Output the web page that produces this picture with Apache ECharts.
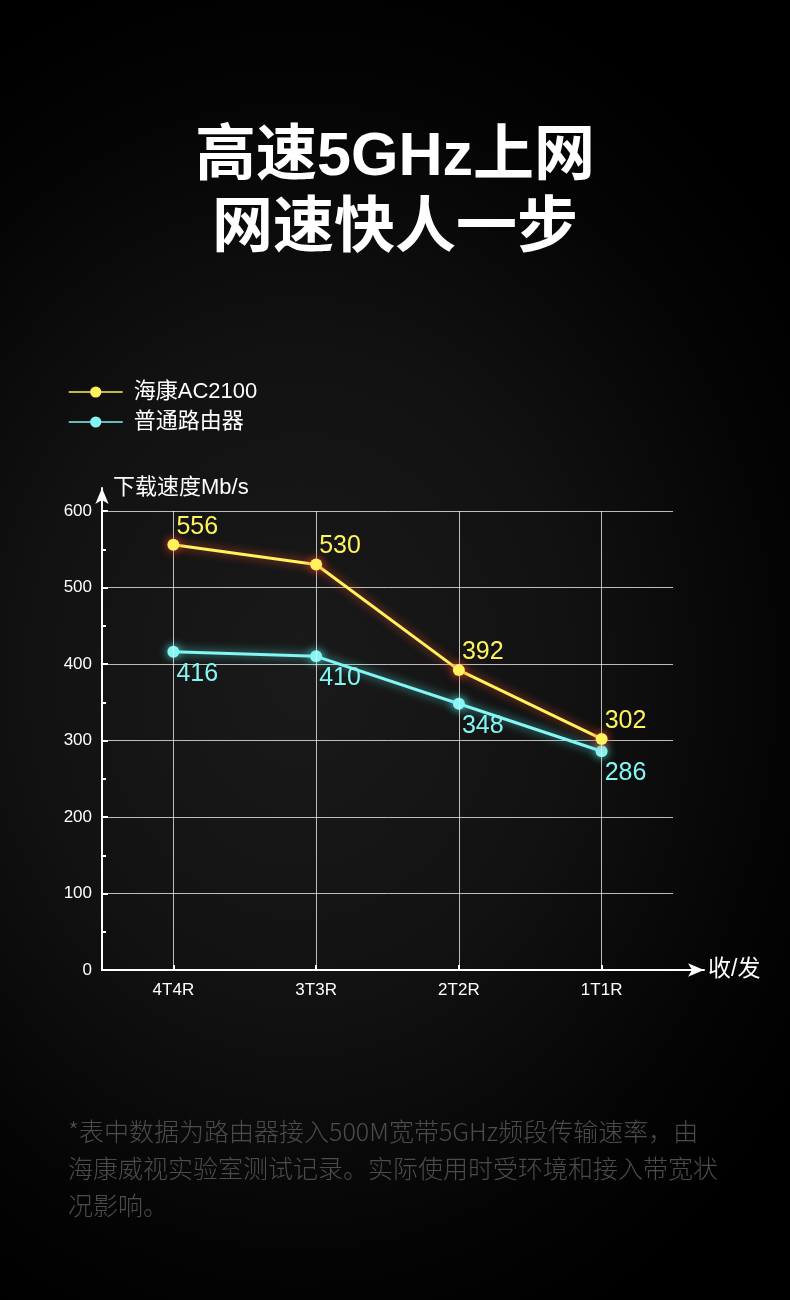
<!DOCTYPE html>
<html>
<head>
<meta charset="utf-8">
<script src="https://cdn.jsdelivr.net/npm/echarts@6/dist/echarts.min.js"></script>
<style>
  html, body { margin: 0; padding: 0; }
  body {
    width: 790px; height: 1300px;
    background: radial-gradient(ellipse 75% 55% at 38% 52%, #1a1a1a 0%, #121212 45%, #050505 80%, #000 100%);
  }
  #chart { width: 790px; height: 1300px; }
</style>
</head>
<body>
<div id="chart"></div>
<script>
// chart data
const categories = ['4T4R', '3T3R', '2T2R', '1T1R'];
const hikSpeed = [556, 530, 392, 302];
const normalSpeed = [416, 410, 348, 286];
const seriesNames = ['海康AC2100', '普通路由器'];

const yellow = '#fff25c';
const cyan = '#84f6f4';
const font = '"Liberation Sans", "Noto Sans CJK SC", sans-serif';

const footnote = '*表中数据为路由器接入500M宽带5GHz频段传输速率，由\n' +
    '海康威视实验室测试记录。实际使用时受环境和接入带宽状\n' +
    '况影响。';

let chart = echarts.init(document.getElementById('chart'));

let option = {
    backgroundColor: 'transparent',
    textStyle: { fontFamily: font },
    title: {
        text: '高速5GHz上网\n网速快人一步',
        left: 'center',
        top: 117,
        textStyle: {
            color: '#ffffff',
            fontSize: 61,
            fontWeight: 'bold',
            lineHeight: 72,
            fontFamily: font
        }
    },
    legend: {
        orient: 'vertical',
        left: 68,
        top: 381,
        padding: 0,
        itemWidth: 54,
        itemHeight: 14,
        itemGap: 8,
        data: seriesNames,
        lineStyle: { width: 1.5 },
        textStyle: { color: '#ffffff', fontSize: 22, lineHeight: 22, padding: [0, 0, 0, 6] }
    },
    grid: [
        // data grid
        { left: 102, right: 117, top: 511, bottom: 330 },
        // only the arrow axes
        { left: 102, right: 86, top: 488, bottom: 330 }
    ],
    xAxis: [
        {
            type: 'category',
            gridIndex: 0,
            data: categories,
            boundaryGap: true,
            axisLine: { lineStyle: { color: '#ffffff', width: 2 } },
            axisTick: { show: true, alignWithLabel: true, inside: true, length: 5, lineStyle: { color: '#ffffff', width: 2 } },
            axisLabel: { color: '#ffffff', fontSize: 17, margin: 12 },
            splitLine: { show: false }
        },
        {
            type: 'value',
            gridIndex: 1,
            min: 0, max: 1,
            name: '收/发',
            nameGap: 4,
            nameTextStyle: { color: '#ffffff', fontSize: 23 },
            axisLine: { symbol: ['none', 'arrow'], symbolSize: [10, 16], lineStyle: { color: '#ffffff', width: 2 } },
            axisTick: { show: false },
            axisLabel: { show: false },
            splitLine: { show: false }
        }
    ],
    yAxis: [
        {
            type: 'value',
            gridIndex: 0,
            min: 0, max: 600, interval: 100,
            axisLine: { show: true, lineStyle: { color: '#ffffff', width: 2 } },
            axisTick: { show: true, inside: true, length: 6, lineStyle: { color: '#ffffff', width: 2 } },
            minorTick: { show: true, splitNumber: 2, length: 4, lineStyle: { color: '#ffffff', width: 2 } },
            axisLabel: { color: '#ffffff', fontSize: 17, margin: 10 },
            splitLine: { lineStyle: { color: 'rgba(255,255,255,0.72)', width: 1 } }
        },
        {
            type: 'value',
            gridIndex: 1,
            min: 0, max: 1,
            name: '下载速度Mb/s',
            nameLocation: 'end',
            nameGap: 0,
            nameTextStyle: { color: '#ffffff', fontSize: 22, align: 'left', verticalAlign: 'middle', padding: [0, 0, 0, 11] },
            axisLine: { show: true, symbol: ['none', 'arrow'], symbolSize: [10, 16], lineStyle: { color: '#ffffff', width: 2 } },
            axisTick: { show: false },
            axisLabel: { show: false },
            splitLine: { show: false }
        }
    ],
    series: [
        {
            name: seriesNames[0],
            type: 'line',
            xAxisIndex: 0, yAxisIndex: 0,
            data: hikSpeed,
            symbol: 'circle',
            symbolSize: 12,
            z: 5,
            lineStyle: { color: yellow, width: 3, shadowBlur: 10, shadowColor: 'rgba(255,90,40,0.8)' },
            itemStyle: { color: yellow, shadowBlur: 10, shadowColor: 'rgba(255,70,40,0.9)' },
            label: {
                show: true,
                position: 'right',
                distance: 3,
                offset: [-6, -18],
                color: yellow,
                fontSize: 25
            },
            markLine: {
                silent: true,
                symbol: 'none',
                label: { show: false },
                lineStyle: { color: 'rgba(255,255,255,0.72)', width: 1, type: 'solid' },
                data: categories.map(c => ({ xAxis: c }))
            }
        },
        {
            name: seriesNames[1],
            type: 'line',
            xAxisIndex: 0, yAxisIndex: 0,
            data: normalSpeed,
            symbol: 'circle',
            symbolSize: 12,
            z: 4,
            lineStyle: { color: cyan, width: 3, shadowBlur: 10, shadowColor: 'rgba(90,240,240,0.8)' },
            itemStyle: { color: cyan, shadowBlur: 10, shadowColor: 'rgba(90,240,240,0.9)' },
            label: {
                show: true,
                position: 'right',
                distance: 3,
                offset: [-6, 22],
                color: cyan,
                fontSize: 25
            }
        }
    ],
    graphic: [
        {
            type: 'text',
            left: 68,
            top: 1113,
            style: {
                text: footnote,
                fill: '#4c4c4c',
                fontSize: 25,
                fontWeight: 300,
                lineHeight: 37,
                fontFamily: '"Noto Sans CJK SC", sans-serif'
            }
        }
    ]
};

chart.setOption(option);
</script>
</body>
</html>
